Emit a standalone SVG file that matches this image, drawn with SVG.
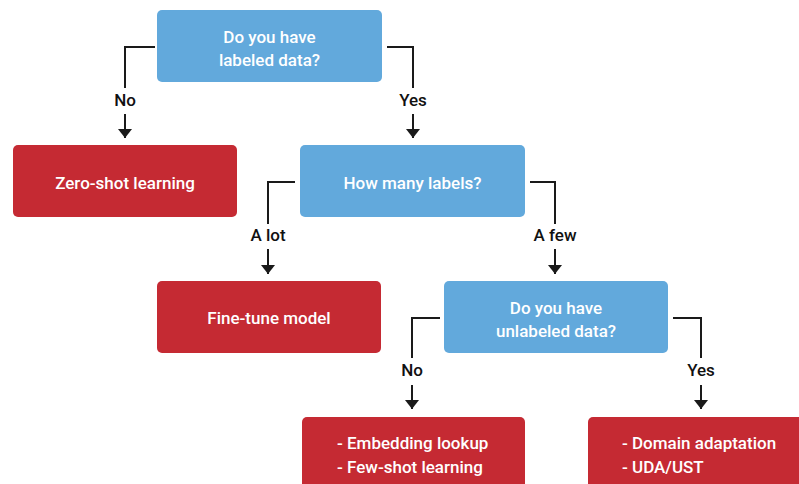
<svg xmlns="http://www.w3.org/2000/svg" width="799" height="484" viewBox="0 0 799 484">
<style>
.q{fill:#62a9dc}
.a{fill:#c52a33}
.t{font-family:Roboto,"Liberation Sans",Arial,sans-serif;font-size:17px;font-weight:500;fill:#fff;text-anchor:middle}
.tl{font-family:Roboto,"Liberation Sans",Arial,sans-serif;font-size:17px;font-weight:500;fill:#fff}
.lb{font-family:Roboto,"Liberation Sans",Arial,sans-serif;font-size:17px;font-weight:500;fill:#111;text-anchor:middle}
.c{fill:none;stroke:#1a1a1a;stroke-width:2}
</style>
<defs>
<marker id="ah" viewBox="0 0 9 14" refX="9" refY="7" markerWidth="9" markerHeight="14" markerUnits="userSpaceOnUse" orient="auto">
<path d="M0,0 L9,7 L0,14 Z" fill="#1a1a1a"/>
</marker>
</defs>
<g id="connectors">
<path class="c" d="M155,47 H125 V88"/>
<path class="c" d="M125,114 V138" marker-end="url(#ah)"/>
<path class="c" d="M387,47 H413 V88"/>
<path class="c" d="M413,114 V138" marker-end="url(#ah)"/>
<path class="c" d="M295,182 H268 V224"/>
<path class="c" d="M268,249 V274" marker-end="url(#ah)"/>
<path class="c" d="M530,182 H555 V224"/>
<path class="c" d="M555,249 V274" marker-end="url(#ah)"/>
<path class="c" d="M440,318 H412 V358"/>
<path class="c" d="M412,385 V409" marker-end="url(#ah)"/>
<path class="c" d="M673,318 H701 V358"/>
<path class="c" d="M701,385 V409" marker-end="url(#ah)"/>
<text class="lb" x="125" y="106">No</text>
<text class="lb" x="413" y="106">Yes</text>
<text class="lb" x="268" y="241">A lot</text>
<text class="lb" x="555" y="241">A few</text>
<text class="lb" x="412" y="376">No</text>
<text class="lb" x="701" y="376">Yes</text>
</g>
<g id="q1"><rect class="q" x="157" y="10" width="225" height="72" rx="5"/>
<text class="t" x="269.5" y="43">Do you have</text><text class="t" x="269.5" y="66">labeled data?</text></g>
<g id="zero"><rect class="a" x="13" y="145" width="224" height="72" rx="5"/>
<text class="t" x="125" y="189">Zero-shot learning</text></g>
<g id="q2"><rect class="q" x="300" y="145" width="225" height="72" rx="5"/>
<text class="t" x="412.5" y="189">How many labels?</text></g>
<g id="finetune"><rect class="a" x="157" y="281" width="224" height="72" rx="5"/>
<text class="t" x="269" y="324">Fine-tune model</text></g>
<g id="q3"><rect class="q" x="444" y="281" width="224" height="72" rx="5"/>
<text class="t" x="556" y="314">Do you have</text><text class="t" x="556" y="337">unlabeled data?</text></g>
<g id="few"><rect class="a" x="302" y="417" width="223" height="72" rx="5"/>
<text class="tl" x="337" y="449">- Embedding lookup</text><text class="tl" x="337" y="473">- Few-shot learning</text></g>
<g id="uda"><rect class="a" x="588" y="417" width="223" height="72" rx="5"/>
<text class="tl" x="622" y="449">- Domain adaptation</text><text class="tl" x="622" y="473">- UDA/UST</text></g>
</svg>
